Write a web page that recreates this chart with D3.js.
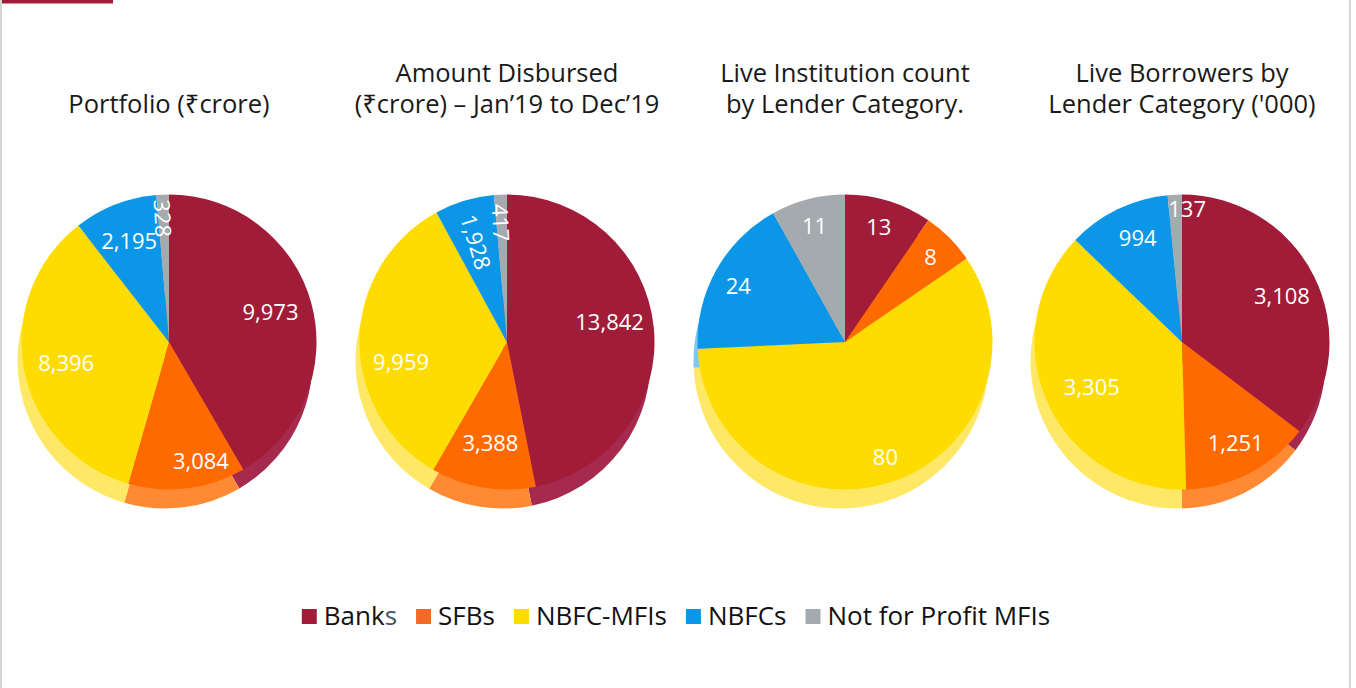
<!DOCTYPE html>
<html>
<head>
<meta charset="utf-8">
<script src="https://cdn.jsdelivr.net/npm/d3@7"></script>
<style>
  html, body { margin: 0; padding: 0; background: #fff; }
  svg { display: block; font-family: "Open Sans", "Noto Sans", sans-serif; }
</style>
</head>
<body>
<svg id="chart" width="1356" height="688"></svg>
<script>
// ---- data ----
const categories = ["Banks", "SFBs", "NBFC-MFIs", "NBFCs", "Not for Profit MFIs"];
const portfolio = [9973, 3084, 8396, 2195, 328];
const disbursed = [13842, 3388, 9959, 1928, 417];
const institutions = [13, 8, 80, 24, 11];
const borrowers = [3108, 1251, 3305, 994, 137];
const titles = [
  ["Portfolio (₹crore)"],
  ["Amount Disbursed", "(₹crore) – Jan’19 to Dec’19"],
  ["Live Institution count", "by Lender Category."],
  ["Live Borrowers by", "Lender Category ('000)"]
];

// ---- styling / layout ----
const colors = ["#A11C38", "#FF6A00", "#FEDC00", "#0C96E8", "#A5AAAF"];
const shadeColors = ["#A62A4E", "#FF8A33", "#FFE866", "#7CC8F4", "#C2C6CA"];
const legendColors = ["#A11C38", "#F26A25", "#FEDC00", "#0C96E8", "#A5AAAF"];
const labelRadius = [
  [0.72, 0.83, 0.71, 0.74, 0.84],
  [0.71, 0.69, 0.73, 0.71, 0.81],
  [0.82, 0.82, 0.82, 0.82, 0.82],
  [0.75, 0.77, 0.68, 0.77, 0.91]
];
const labelAngleShift = [
  [-2, -8, 0, 0, 0],
  [-6, 0, -11, 0, 0],
  [-1, 0, -1, -1, 0],
  [1, -1, -2, 3, 5]
];
const radialLabel = [
  [false, false, false, false, true],
  [false, false, false, true, true],
  [false, false, false, false, false],
  [false, false, false, false, false]
];
const series = [portfolio, disbursed, institutions, borrowers];
const centersX = [169, 507, 845, 1182];
const cy = 342, R = 147.5;
const shadowDx = -4, shadowDy = 19;

const svg = d3.select("#chart");

// frame
svg.append("rect").attr("x", 0).attr("y", 0).attr("width", 2).attr("height", 688).attr("fill", "#D4D4D4");
svg.append("rect").attr("x", 1349).attr("y", 0).attr("width", 2).attr("height", 688).attr("fill", "#D4D4D4");
svg.append("rect").attr("x", 2).attr("y", 0).attr("width", 111).attr("height", 3.5).attr("fill", "#A11C38");

const fmt = d3.format(",");
const pie = d3.pie().sort(null).value(d => d);
const arc = d3.arc().innerRadius(0).outerRadius(R);

series.forEach((vals, ci) => {
  const cx = centersX[ci];
  const arcs = pie(vals);

  // title
  const tl = titles[ci];
  const t = svg.append("text")
    .attr("text-anchor", "middle")
    .attr("font-size", 25.5)
    .attr("fill", "#1A1A1A");
  const baseY = 113 - (tl.length - 1) * 31;
  tl.forEach((line, li) => {
    t.append("tspan").attr("x", cx).attr("y", baseY + li * 31).text(line);
  });

  // shadow (3D depth)
  const gs = svg.append("g").attr("transform", `translate(${cx + shadowDx},${cy + shadowDy})`);
  gs.selectAll("path").data(arcs).join("path")
    .attr("d", arc)
    .attr("fill", (d, i) => shadeColors[i]);

  // main pie
  const g = svg.append("g").attr("transform", `translate(${cx},${cy})`);
  g.selectAll("path").data(arcs).join("path")
    .attr("d", arc)
    .attr("fill", (d, i) => colors[i]);

  // labels
  g.selectAll("text").data(arcs).join("text")
    .attr("transform", (d, i) => {
      const mid = (d.startAngle + d.endAngle) / 2;
      const a = mid + labelAngleShift[ci][i] * Math.PI / 180;
      const r = R * labelRadius[ci][i];
      const x = r * Math.sin(a), y = -r * Math.cos(a);
      const rot = radialLabel[ci][i] ? (mid * 180 / Math.PI + 90) : 0;
      return `translate(${x},${y}) rotate(${rot})`;
    })
    .attr("text-anchor", "middle")
    .attr("dominant-baseline", "central")
    .attr("font-size", 22)
    .attr("fill", "#FFFFFF")
    .text(d => fmt(d.data));
});

// legend
const lg = svg.append("g");
let xPos = 0;
const gap = 19;
categories.forEach((c, i) => {
  const item = lg.append("g");
  item.append("rect").attr("x", 0).attr("y", -16).attr("width", 15).attr("height", 15).attr("fill", legendColors[i]);
  const txt = item.append("text").attr("x", 22).attr("y", 0).attr("font-size", 26).attr("fill", "#111");
  if (c === "Banks") {
    txt.append("tspan").text("Bank");
    txt.append("tspan").attr("fill", "#44546A").text("s");
  } else {
    txt.text(c);
  }
  const w = 22 + txt.node().getComputedTextLength();
  item.attr("transform", `translate(${xPos},0)`);
  xPos += w + gap;
});
const totalW = xPos - gap;
lg.attr("transform", `translate(${676 - totalW / 2},625)`);
</script>
</body>
</html>
